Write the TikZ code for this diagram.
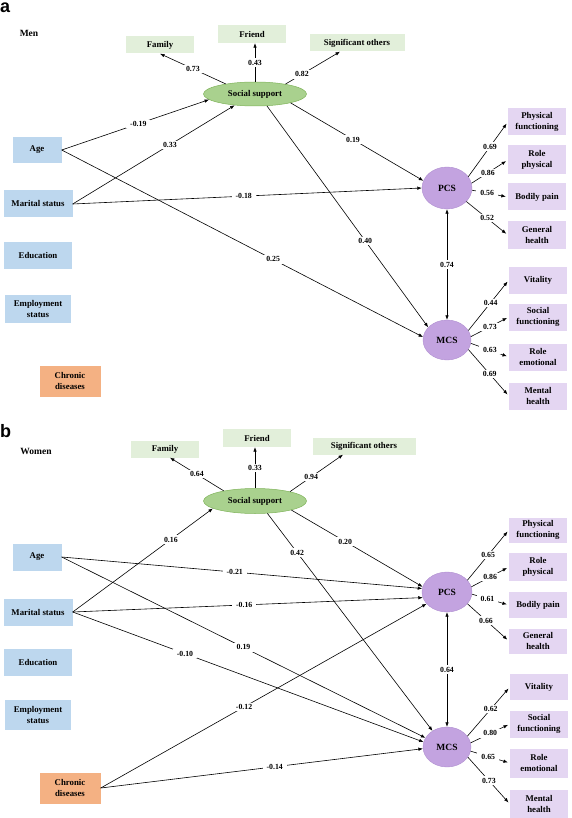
\documentclass[tikz,border=0pt]{standalone}
\usepackage{fontspec}
\setmainfont{Liberation Serif}
\newfontfamily\panelfont{Liberation Sans}
\usetikzlibrary{arrows.meta,shapes.geometric}
\definecolor{bluebox}{HTML}{BDD7EE}
\definecolor{greenbox}{HTML}{E2EFDA}
\definecolor{ssfill}{HTML}{A9D18E}
\definecolor{ssdraw}{HTML}{7FB35A}
\definecolor{latfill}{HTML}{C3A3E0}
\definecolor{latdraw}{HTML}{B08FD0}
\definecolor{purbox}{HTML}{E4D6F2}
\definecolor{orbox}{HTML}{F4B183}
\begin{document}
\begin{tikzpicture}[x=1pt,y=-1pt,
  box/.style={rectangle, inner sep=1pt, align=center, font=\fontsize{8.8}{10.3}\selectfont\bfseries},
  pred/.style={box, fill=bluebox, minimum width=69pt, minimum height=27pt},
  chron/.style={box, fill=orbox, minimum width=61pt, minimum height=31pt},
  ind/.style={box, fill=greenbox, minimum width=68pt, minimum height=17pt},
  sbox/.style={box, fill=purbox, minimum width=58pt, minimum height=27pt},
  ssnode/.style={ellipse, draw=ssdraw, line width=0.5pt, fill=ssfill, inner sep=0pt, minimum width=103pt, minimum height=24pt, font=\fontsize{8.8}{10}\selectfont\bfseries},
  lat/.style={ellipse, draw=latdraw, line width=0.4pt, fill=latfill, inner sep=0pt, minimum width=50pt, minimum height=42pt, font=\fontsize{9.5}{10}\selectfont\bfseries},
  lbl/.style={fill=white, inner xsep=4pt, inner ysep=1.5pt, font=\fontsize{7.8}{9}\selectfont\bfseries},
  arr/.style={line width=0.6pt, -{Latex[length=4.5pt,width=3.5pt]}},
  arrs/.style={arr, shorten >=2pt},
  dbl/.style={line width=0.6pt, {Latex[length=4.5pt,width=3.5pt]}-{Latex[length=4.5pt,width=3.5pt]}},
  panel/.style={inner sep=0pt, anchor=base west, font=\panelfont\fontsize{18}{18}\selectfont\bfseries},
  grp/.style={inner sep=0pt, font=\fontsize{9.5}{10}\selectfont\bfseries}
]
\useasboundingbox (0,0) rectangle (571,818);

% ================= Panel a =================
\node[panel] (pa) at (0,13) {a};
\node[grp] (men) at (29,33) {Men};

\node[ind] (fama) at (160,45) {Family};
\node[ind, minimum height=18pt] (fria) at (252,34) {Friend};
\node[ind, minimum width=95pt] (siga) at (357,43) {Significant others};
\node[ssnode] (ssa) at (255,94) {Social support};

\node[pred, minimum width=49pt, minimum height=26pt] (agea) at (37,150) {Age};
\node[pred] (mara) at (38,204) {Marital status};
\node[pred, minimum width=68pt] (edua) at (38,255) {Education};
\node[pred, minimum width=66pt, minimum height=28pt] (empa) at (38,309) {Employment\\status};
\node[chron] (chra) at (70,381) {Chronic\\diseases};

\node[lat] (pcsa) at (447,188) {PCS};
\node[lat, minimum width=48pt, minimum height=40pt] (mcsa) at (447,340) {MCS};

\node[sbox] (pfa) at (537,122) {Physical\\functioning};
\node[sbox, minimum height=29pt] (rpa) at (537,160) {Role\\physical};
\node[sbox] (bpa) at (537,197) {Bodily pain};
\node[sbox] (gha) at (537,235) {General\\health};
\node[sbox] (via) at (538,280) {Vitality};
\node[sbox] (sfa) at (538,317) {Social\\functioning};
\node[sbox] (rea) at (538,357) {Role\\emotional};
\node[sbox] (mha) at (538,396) {Mental\\health};

\draw[arr] (ssa.161) -- node[lbl,pos=0.5]{0.73} (fama.south);
\draw[arr] (ssa.north) -- node[lbl]{0.43} (ssa.north |- fria.south);
\draw[arr] (ssa.18) -- node[lbl,pos=0.3]{0.82} ([xshift=-17pt]siga.south);
\draw[arr] (agea.east) -- node[lbl,pos=0.52]{-0.19} (ssa.187);
\draw[arr] (mara.east) -- node[lbl,pos=0.6]{0.33} (ssa.209);
\draw[arr] (ssa.346) -- node[lbl,pos=0.47]{0.19} (pcsa.163);
\draw[arr] (ssa.315) -- node[lbl,pos=0.61]{0.40} (mcsa.146);
\draw[arr] (mara.east) -- node[lbl,pos=0.49]{-0.18} (pcsa.west);
\draw[arr] (agea.east) -- node[lbl,pos=0.585]{0.25} (mcsa.173);
\draw[dbl] (pcsa.south) -- node[lbl]{0.74} (mcsa.north);

\draw[arrs] (pcsa.28) -- node[lbl,pos=0.55]{0.69} (pfa.west);
\draw[arrs] (pcsa.11) -- node[lbl,pos=0.45]{0.86} (rpa.west);
\draw[arrs] (pcsa.-5) -- node[lbl,pos=0.42]{0.56} (bpa.west);
\draw[arrs] (pcsa.-35) -- node[lbl,pos=0.5]{0.52} (gha.west);
\draw[arrs] (mcsa.24) -- node[lbl,pos=0.55]{0.44} (via.west);
\draw[arrs] (mcsa.8) -- node[lbl,pos=0.5]{0.73} (sfa.west);
\draw[arrs] (mcsa.-8) -- node[lbl,pos=0.5]{0.63} (rea.west);
\draw[arrs] (mcsa.-24) -- node[lbl,pos=0.53]{0.69} (mha.west);

% ================= Panel b =================
\node[panel] (pb) at (0,437) {b};
\node[grp] (women) at (36,451) {Women};

\node[ind] (famb) at (165,449) {Family};
\node[ind, minimum height=18pt] (frib) at (257,438) {Friend};
\node[ind, minimum width=103pt] (sigb) at (364,446) {Significant others};
\node[ssnode, minimum height=25pt] (ssb) at (255,501) {Social support};

\node[pred, minimum width=49pt] (ageb) at (37,557) {Age};
\node[pred] (marb) at (38,612) {Marital status};
\node[pred, minimum width=68pt] (edub) at (38,662) {Education};
\node[pred, minimum width=66pt, minimum height=30pt] (empb) at (38,715) {Employment\\status};
\node[chron] (chrb) at (70,788) {Chronic\\diseases};

\node[lat, minimum height=40pt] (pcsb) at (447,592) {PCS};
\node[lat, minimum width=48pt, minimum height=40pt] (mcsb) at (447,747) {MCS};

\node[sbox, minimum height=25pt] (pfb) at (538,530) {Physical\\functioning};
\node[sbox, minimum height=28pt] (rpb) at (538,567) {Role\\physical};
\node[sbox, minimum height=26pt] (bpb) at (538,605) {Bodily pain};
\node[sbox, minimum height=25pt] (ghb) at (538,641) {General\\health};
\node[sbox, minimum height=26pt] (vib) at (539,687) {Vitality};
\node[sbox] (sfb) at (539,724) {Social\\functioning};
\node[sbox, minimum height=29pt] (reb) at (539,763) {Role\\emotional};
\node[sbox, minimum height=28pt] (mhb) at (539,804) {Mental\\health};

\draw[arr] (ssb.162) -- node[lbl,pos=0.5]{0.64} ([xshift=5pt]famb.south);
\draw[arr] (ssb.north) -- node[lbl]{0.33} (ssb.north |- frib.south);
\draw[arr] (ssb.15) -- node[lbl,pos=0.4]{0.94} ([xshift=-21pt]sigb.south);
\draw[arr] (marb.east) -- node[lbl,pos=0.7]{0.16} (ssb.190);
\draw[arr] (ssb.346) -- node[lbl,pos=0.41]{0.20} (pcsb.168);
\draw[arr] (ssb.315) -- node[lbl,pos=0.18]{0.42} (mcsb.132);
\draw[arr] (ageb.east) -- node[lbl,pos=0.48]{-0.21} (pcsb.172);
\draw[arr] (marb.east) -- node[lbl,pos=0.49]{-0.16} (pcsb.193);
\draw[arr] (ageb.east) -- node[lbl,pos=0.5]{0.19} (mcsb.157);
\draw[arr] (marb.east) -- node[lbl,pos=0.32]{-0.10} (mcsb.168);
\draw[arr] (chrb.east) -- node[lbl,pos=0.44]{-0.12} (pcsb.210);
\draw[arr] (chrb.east) -- node[lbl,pos=0.54]{-0.14} (mcsb.184);
\draw[dbl] (pcsb.south) -- node[lbl]{0.64} (mcsb.north);

\draw[arrs] (pcsb.30) -- node[lbl,pos=0.5]{0.65} (pfb.west);
\draw[arrs] (pcsb.12) -- node[lbl,pos=0.5]{0.86} (rpb.west);
\draw[arrs] (pcsb.-5) -- node[lbl,pos=0.42]{0.61} (bpb.west);
\draw[arrs] (pcsb.-30) -- node[lbl,pos=0.45]{0.66} (ghb.west);
\draw[arrs] (mcsb.28) -- node[lbl,pos=0.55]{0.62} (vib.west);
\draw[arrs] (mcsb.10) -- node[lbl,pos=0.5]{0.80} (sfb.west);
\draw[arrs] (mcsb.-10) -- node[lbl,pos=0.45]{0.65} (reb.west);
\draw[arrs] (mcsb.-26) -- node[lbl,pos=0.5]{0.73} (mhb.west);
\end{tikzpicture}
\end{document}
